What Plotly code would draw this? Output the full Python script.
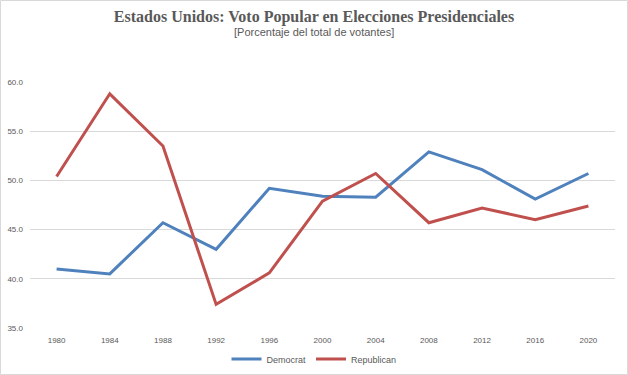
import plotly.graph_objects as go

years = ["1980", "1984", "1988", "1992", "1996", "2000", "2004", "2008", "2012", "2016", "2020"]
democrat = [41.0, 40.5, 45.7, 43.0, 49.2, 48.4, 48.3, 52.9, 51.1, 48.1, 50.7]
republican = [50.4, 58.8, 53.5, 37.4, 40.6, 47.9, 50.7, 45.7, 47.2, 46.0, 47.4]

W, H = 628, 375
ml, mr, mt, mb = 30, 13, 82, 47

fig = go.Figure()
fig.add_trace(go.Scatter(x=years, y=democrat, name="Democrat", mode="lines",
                         line=dict(color="#4F81BD", width=3)))
fig.add_trace(go.Scatter(x=years, y=republican, name="Republican", mode="lines",
                         line=dict(color="#C0504D", width=3)))

pw, ph = W - ml - mr, H - mt - mb
fig.add_shape(type="rect", xref="paper", yref="paper",
              x0=(0.5 - ml) / pw, x1=(W - 0.5 - ml) / pw,
              y0=-(mb - 0.5) / ph, y1=(H - mb - 0.5) / ph,
              line=dict(color="#D9D9D9", width=1), layer="below")

fig.update_layout(
    width=W, height=H,
    margin=dict(l=ml, r=mr, t=mt, b=mb, autoexpand=False),
    paper_bgcolor="white", plot_bgcolor="white",
    title=dict(
        text="<b>Estados Unidos: Voto Popular en Elecciones Presidenciales</b>",
        x=0.5, xref="container", xanchor="center",
        y=1 - 16 / H, yref="container", yanchor="middle",
        font=dict(family="Liberation Serif, Times New Roman, serif", size=16, color="#595959"),
    ),
    annotations=[dict(
        text="[Porcentaje del total de votantes]",
        xref="paper", yref="paper", x=(W / 2 - ml) / pw, y=(H - mb - 32) / ph,
        yanchor="middle", xanchor="center", showarrow=False,
        font=dict(family="Liberation Sans, Arial, sans-serif", size=11, color="#595959"),
    )],
    xaxis=dict(
        type="category", range=[-0.5, 10.5], showgrid=False, zeroline=False,
        showline=False, ticks="", automargin=False, ticklabelstandoff=6,
        tickfont=dict(family="Liberation Sans, Arial, sans-serif", size=8, color="#595959"),
    ),
    yaxis=dict(
        range=[35, 60], dtick=5, tickformat=".1f", showgrid=True,
        gridcolor="#D9D9D9", gridwidth=1, zeroline=False, showline=False,
        ticks="", ticklabelstandoff=6, automargin=False,
        tickfont=dict(family="Liberation Sans, Arial, sans-serif", size=8, color="#595959"),
    ),
    legend=dict(
        orientation="h", x=(W / 2 - ml) / pw, xanchor="center",
        y=-(359 - (H - mb)) / ph, yanchor="middle",
        font=dict(family="Liberation Sans, Arial, sans-serif", size=9, color="#595959"),
    ),
)

fig.write_html("out.html", config={"displayModeBar": False},
               post_script="document.body.style.margin='0';")
